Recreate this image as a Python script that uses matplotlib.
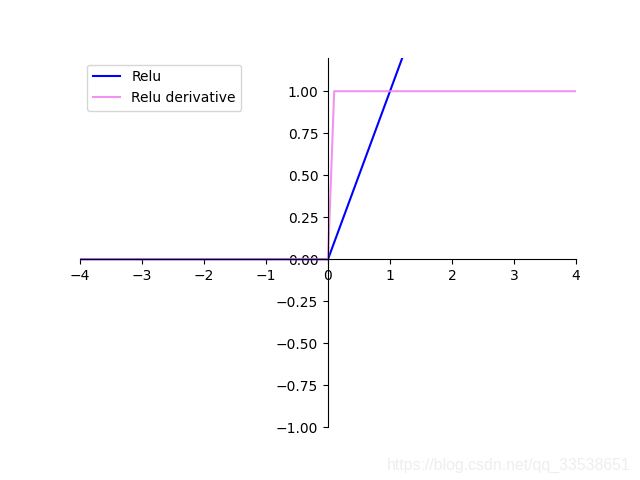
import numpy as np
import matplotlib
matplotlib.use('Agg')
import matplotlib.pyplot as plt

# break points
relu_x = [-4.0, 0.0, 4.0]
relu_y = [0.0, 0.0, 4.0]
deriv_x = [-4.0, 0.0, 0.1, 4.0]
deriv_y = [0.0, 0.0, 1.0, 1.0]

fig = plt.figure(figsize=(6.4, 4.8), dpi=100)
ax = fig.add_subplot(111)

ax.plot(relu_x, relu_y, color='blue', label='Relu')
ax.plot(deriv_x, deriv_y, color='violet', alpha=0.85, label='Relu derivative')

# move spines to the origin
ax.spines['right'].set_color('none')
ax.spines['top'].set_color('none')
ax.spines['bottom'].set_position(('data', 0))
ax.spines['left'].set_position(('data', 0))
ax.xaxis.set_ticks_position('bottom')
ax.yaxis.set_ticks_position('left')

ax.set_xlim(-4, 4)
ax.set_ylim(-1, 1.2)
ax.set_yticks(np.arange(-1, 1.01, 0.25))
ax.legend(loc='upper left')

# watermark
fig.text(0.986, 0.021, 'https://blog.csdn.net/qq_33538651', ha='right', va='baseline',
         fontsize=11.4, family='Liberation Sans', color='#eeeeee')

plt.savefig('out.png')
